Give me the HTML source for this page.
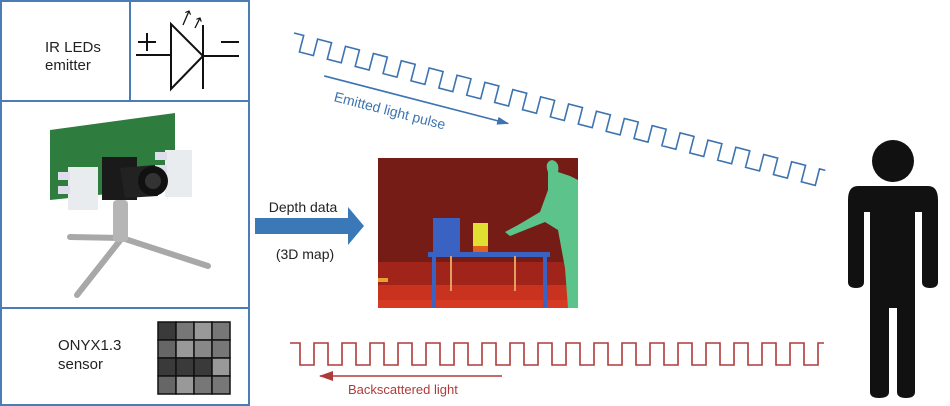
<!DOCTYPE html>
<html><head><meta charset="utf-8"><style>
html,body{margin:0;padding:0;background:#fff;}
svg{display:block;}
text{font-family:"Liberation Sans",Arial,sans-serif;}
</style></head><body>
<svg width="950" height="406" viewBox="0 0 950 406" xmlns="http://www.w3.org/2000/svg">
<defs>
<marker id="ab" markerWidth="12" markerHeight="8" refX="11" refY="4" orient="auto" markerUnits="userSpaceOnUse"><path d="M0,0 L12,4 L0,8 z" fill="#3d74b0"/></marker>
<marker id="ar" markerWidth="14" markerHeight="10" refX="13" refY="5" orient="auto" markerUnits="userSpaceOnUse"><path d="M0,0 L14,5 L0,10 z" fill="#b03a3a"/></marker>
<marker id="sa" markerWidth="6" markerHeight="6" refX="3" refY="3" orient="auto" markerUnits="userSpaceOnUse"><path d="M0,0 L3,3 L0,6" fill="none" stroke="#111" stroke-width="1.2"/></marker>
</defs>
<g fill="none" stroke="#4a7db5" stroke-width="2">
<rect x="1" y="1" width="248" height="404"/>
<line x1="1" y1="101" x2="249" y2="101"/>
<line x1="1" y1="308" x2="249" y2="308"/>
<line x1="130" y1="1" x2="130" y2="101"/>
</g>
<text x="45" y="52" font-size="15" fill="#222">IR LEDs</text>
<text x="45" y="70" font-size="15" fill="#222">emitter</text>
<g stroke="#111" stroke-width="2" fill="none">
<line x1="136" y1="55" x2="171" y2="55"/>
<path d="M171 24 L171 89 L203 56 Z"/>
<line x1="203" y1="25" x2="203" y2="89"/>
<line x1="203" y1="56" x2="239" y2="56"/>
<line x1="138" y1="42" x2="156" y2="42"/><line x1="147" y1="33" x2="147" y2="51"/>
<line x1="221" y1="42" x2="239" y2="42"/>
<line x1="183" y1="25" x2="189" y2="11" stroke-width="1.3" marker-end="url(#sa)"/>
<line x1="195" y1="28" x2="200" y2="18" stroke-width="1.3" marker-end="url(#sa)"/>
</g>
<polygon points="50,130 175,113 175,187 50,200" fill="#2e7d3e"/>
<rect x="68" y="167" width="30" height="43" fill="#e8ecee"/>
<rect x="165" y="150" width="27" height="47" fill="#e8ecee"/>
<rect x="58" y="172" width="12" height="8" fill="#dde"/>
<rect x="58" y="186" width="12" height="8" fill="#dde"/>
<rect x="155" y="152" width="12" height="8" fill="#dde"/>
<rect x="155" y="165" width="12" height="8" fill="#dde"/>
<rect x="102" y="157" width="35" height="43" fill="#1a1a1a"/>
<path d="M120 168 L155 165 L158 196 L125 198 Z" fill="#222"/>
<circle cx="153" cy="181" r="15" fill="#111"/>
<circle cx="153" cy="181" r="8" fill="#333"/>
<g stroke="#a8a8a8" stroke-width="6" stroke-linecap="round">
<line x1="122" y1="238" x2="77" y2="295"/>
<line x1="122" y1="238" x2="70" y2="237"/>
<line x1="122" y1="238" x2="208" y2="266"/>
</g>
<rect x="113" y="200" width="15" height="42" rx="4" fill="#b5b5b5"/>
<text x="58" y="350" font-size="15" fill="#222">ONYX1.3</text>
<text x="58" y="369" font-size="15" fill="#222">sensor</text>
<g stroke="#111" stroke-width="1.5">
<rect x="158" y="322" width="18" height="18" fill="#3a3a3a"/><rect x="176" y="322" width="18" height="18" fill="#777"/><rect x="194" y="322" width="18" height="18" fill="#999"/><rect x="212" y="322" width="18" height="18" fill="#777"/>
<rect x="158" y="340" width="18" height="18" fill="#666"/><rect x="176" y="340" width="18" height="18" fill="#999"/><rect x="194" y="340" width="18" height="18" fill="#888"/><rect x="212" y="340" width="18" height="18" fill="#777"/>
<rect x="158" y="358" width="18" height="18" fill="#3a3a3a"/><rect x="176" y="358" width="18" height="18" fill="#3a3a3a"/><rect x="194" y="358" width="18" height="18" fill="#3a3a3a"/><rect x="212" y="358" width="18" height="18" fill="#999"/>
<rect x="158" y="376" width="18" height="18" fill="#666"/><rect x="176" y="376" width="18" height="18" fill="#999"/><rect x="194" y="376" width="18" height="18" fill="#777"/><rect x="212" y="376" width="18" height="18" fill="#777"/>
</g>
<path d="M255 218 L348 218 L348 207 L364 226 L348 245 L348 234 L255 234 Z" fill="#3b78b8"/>
<text x="303" y="212" font-size="14" fill="#222" text-anchor="middle">Depth data</text>
<text x="305" y="259" font-size="14" fill="#222" text-anchor="middle">(3D map)</text>
<rect x="378" y="158" width="200" height="150" fill="#761c16"/>
<rect x="378" y="262" width="200" height="46" fill="#a0241a"/>
<rect x="378" y="285" width="200" height="23" fill="#c8321e"/>
<rect x="378" y="300" width="200" height="8" fill="#d63a22"/>
<rect x="378" y="278" width="10" height="4" fill="#e8a030"/>
<rect x="433" y="218" width="27" height="36" fill="#3a62c2"/>
<rect x="473" y="223" width="15" height="23" fill="#e0e030"/>
<rect x="473" y="246" width="15" height="6" fill="#e06020"/>
<rect x="428" y="252" width="122" height="5" fill="#3a62c2"/>
<rect x="432" y="255" width="4" height="53" fill="#3a62c2"/>
<rect x="543" y="255" width="4" height="53" fill="#3a62c2"/>
<rect x="450" y="256" width="2" height="35" fill="#e0a060"/>
<rect x="514" y="256" width="2" height="35" fill="#e0a060"/>
<path d="M548 172 Q544 162 552 160 Q560 162 558 172 L570 176 L578 180 L578 308 L568 308 L565 268 L558 230 L545 222 L520 232 L510 236 L505 232 L518 225 L540 212 L548 190 Z" fill="#5cc48a"/>
<g transform="translate(294,33) rotate(14.5)">
<path d="M0 0 h10 v17
h14.4 v-17 h14.4 v17 h14.4 v-17 h14.4 v17 h14.4 v-17 h14.4 v17 h14.4 v-17 h14.4 v17 h14.4 v-17 h14.4 v17 h14.4 v-17 h14.4 v17
h14.4 v-17 h14.4 v17 h14.4 v-17 h14.4 v17 h14.4 v-17 h14.4 v17 h14.4 v-17 h14.4 v17 h14.4 v-17 h14.4 v17 h14.4 v-17 h14.4 v17
h14.4 v-17 h14.4 v17 h14.4 v-17 h14.4 v17 h14.4 v-17 h14.4 v17 h14.4 v-17 h14.4 v17 h14.4 v-17 h14.4 v17 h14.4 v-17 h14.4 v17
h14.4 v-17 h6" fill="none" stroke="#3d74b0" stroke-width="1.6"/>
<line x1="40" y1="34" x2="230" y2="34" stroke="#3d74b0" stroke-width="1.6" marker-end="url(#ab)"/>
<text x="55" y="56" font-size="14" fill="#3d74b0">Emitted light pulse</text>
</g>
<path d="M290 343 h10 v22 h14 v-22 h14 v22 h14 v-22 h14 v22 h14 v-22 h14 v22 h14 v-22 h14 v22 h14 v-22 h14 v22 h14 v-22 h14 v22 h14 v-22 h14 v22 h14 v-22 h14 v22 h14 v-22 h14 v22 h14 v-22 h14 v22 h14 v-22 h14 v22 h14 v-22 h14 v22 h14 v-22 h14 v22 h14 v-22 h14 v22 h14 v-22 h14 v22 h14 v-22 h14 v22 h14 v-22 h14 v22 h14 v-22 h14 v22 h14 v-22 h6" fill="none" stroke="#b03a3a" stroke-width="1.6"/>
<line x1="502" y1="376" x2="320" y2="376" stroke="#b03a3a" stroke-width="1.6" marker-end="url(#ar)"/>
<text x="348" y="394" font-size="13" fill="#b03a3a">Backscattered light</text>
<g fill="#111">
<circle cx="893" cy="161" r="21"/>
<path d="M858 186 Q848 186 848 200 L848 282 Q848 288 856 288 Q864 288 864 282 L864 212 L870 212 L870 392 Q870 398 879 398 Q889 398 889 392 L889 308 L897 308 L897 392 Q897 398 906 398 Q915 398 915 392 L915 212 L922 212 L922 282 Q922 288 930 288 Q938 288 938 282 L938 200 Q938 186 928 186 Z"/>
</g>
</svg>
</body></html>
